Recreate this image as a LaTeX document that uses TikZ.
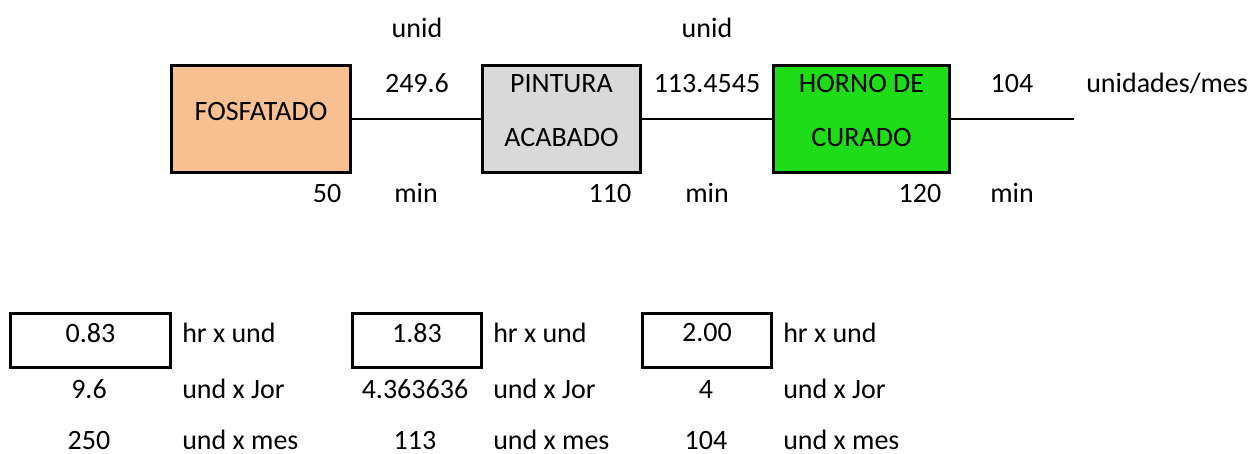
\documentclass[tikz,border=0pt]{standalone}
\usepackage{fontspec}
\setmainfont{Carlito}
\usetikzlibrary{positioning}

\definecolor{fosfato}{HTML}{F8C090}
\definecolor{pintura}{HTML}{D9D9D9}
\definecolor{horno}{HTML}{1EDC18}

\newcommand\tam{\fontsize{28}{34}\selectfont}

\begin{document}
\begin{tikzpicture}[x=1pt, y=-1pt, line width=2.5pt,
        font=\tam,
        proc/.style={draw, line width=3pt, minimum height=107pt},
        caja/.style={draw, line width=3pt, minimum height=54pt},
        dato/.style={inner sep=0pt, anchor=base},
        unidad/.style={inner sep=0pt, anchor=base west},
        doble/.style={align=center, font=\fontsize{28}{54}\selectfont}]
    \useasboundingbox (0,0) rectangle (1256,454);

    % procesos
    \node (fosf) at (261,119) [proc, fill=fosfato, minimum width=179pt,
        label={[yshift=7pt]center:FOSFATADO}] {};
    \node (pint) at (561.5,119) [proc, fill=pintura, minimum width=158pt,
        label={[yshift=8pt, doble]center:PINTURA\\ACABADO}] {};
    \node (horno) at (861.5,119) [proc, fill=horno, minimum width=176pt,
        label={[yshift=8pt, doble]center:HORNO DE\\CURADO}] {};
    \coordinate (salida) at (1074,119);

    \draw (fosf) -- (pint);
    \draw (pint) -- (horno);
    \draw (horno) -- (salida);

    % flujo
    \node (unid1) at (417,38) [dato] {unid};
    \node (unid2) at (707,38) [dato] {unid};
    \node (flujo1) at (417,93) [dato] {249.6};
    \node (flujo2) at (707,93) [dato] {113.4545};
    \node (flujo3) at (1012,93) [dato] {104};
    \node (mes) at (1085,93) [unidad] {unidades/mes};

    % tiempos
    \node (t1) at (327,203) [dato] {50};
    \node (min1) at (416,203) [dato] {min};
    \node (t2) at (610,203) [dato] {110};
    \node (min2) at (707,203) [dato] {min};
    \node (t3) at (920,203) [dato] {120};
    \node (min3) at (1012,203) [dato] {min};

    % capacidades
    \node (c1) at (90.5,340.5) [caja, minimum width=160pt,
        label={[yshift=7.5pt]center:0.83}] {};
    \node (c2) at (417,340.5) [caja, minimum width=129pt,
        label={[yshift=7.5pt]center:1.83}] {};
    \node (c3) at (707,340.5) [caja, minimum width=129pt,
        label={[yshift=7.5pt]center:2.00}] {};
    \node (hr1) at (181,342) [unidad] {hr x und};
    \node (hr2) at (492,342) [unidad] {hr x und};
    \node (hr3) at (782,342) [unidad] {hr x und};

    \node (j1) at (89,398) [dato] {9.6};
    \node (j2) at (415,398) [dato] {4.363636};
    \node (j3) at (706,398) [dato] {4};
    \node (jor1) at (181,398) [unidad] {und x Jor};
    \node (jor2) at (492,398) [unidad] {und x Jor};
    \node (jor3) at (782,398) [unidad] {und x Jor};

    \node (m1) at (89,449) [dato] {250};
    \node (m2) at (415,449) [dato] {113};
    \node (m3) at (706,449) [dato] {104};
    \node (mes1) at (181,449) [unidad] {und x mes};
    \node (mes2) at (492,449) [unidad] {und x mes};
    \node (mes3) at (782,449) [unidad] {und x mes};
\end{tikzpicture}
\end{document}
